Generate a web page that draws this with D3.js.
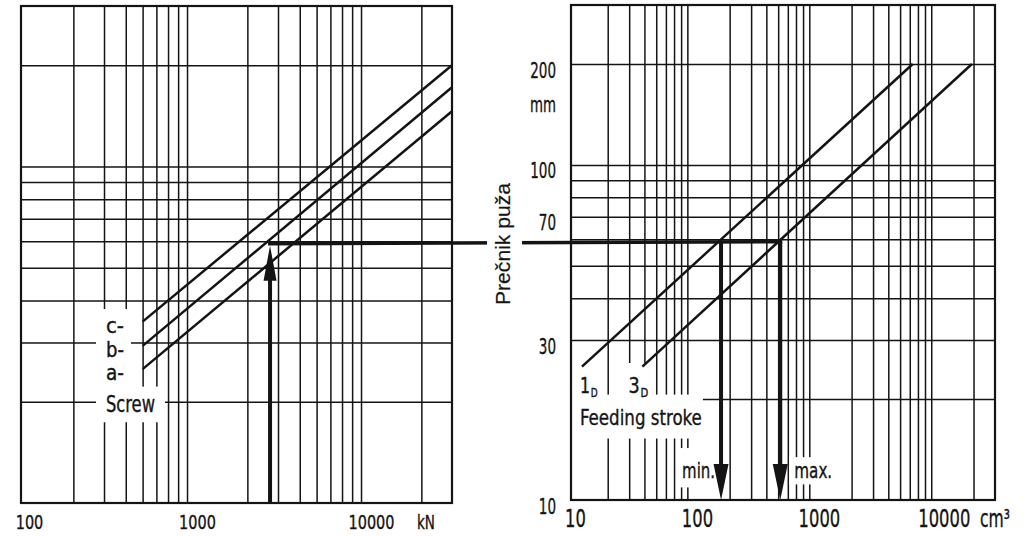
<!DOCTYPE html>
<html><head><meta charset="utf-8">
<script src="https://cdn.jsdelivr.net/npm/d3@7"></script>
<style>
html,body{margin:0;padding:0;background:#fff;}
svg{display:block;}
text{font-family:"DejaVu Sans Condensed","Liberation Sans Narrow","DejaVu Sans",sans-serif;fill:#151515;stroke:#151515;stroke-width:0.35px;}
.arial{font-family:"Liberation Sans",Arial,sans-serif;stroke-width:0.2px;}
</style></head><body>
<svg id="c" width="1028" height="536"></svg>
<script>
// ---------------- data ----------------
const forceGrid = [200,300,400,500,600,700,800,900,2000,3000,4000,5000,6000,7000,8000,9000,20000];      // kN
const volumeGrid = [20,30,40,50,60,70,80,90,200,300,400,500,600,700,800,900,2000,3000,4000,5000,6000,7000,8000,9000,20000]; // cm3
const diameterGrid = [20,30,40,50,60,70,80,90,100,200];   // mm
const forceTicks = [100,1000,10000];
const forceTickLabels = ["100","1000","10000"];
const volumeTicks = [10,100,1000,10000];
const volumeTickLabels = ["10","100","1000","10000"];
const diameterTicks = [200,100,70,30,10];
const diameterTickLabels = ["200","100","70","30","10"];

const screwNames = ["c","b","a"];
const screwForce = [500,30000];          // kN, start / end of each screw line
const screwC = [34.6,200];               // mm
const screwB = [29.3,172];
const screwA = [25,146];

const strokeNames = ["1","3"];
const strokeDiameter = [25,200];         // mm, start / end
const stroke1D = [12.3,6350];            // cm3
const stroke3D = [38.5,19400];           // cm3

const exampleForce = 2700;               // kN
const exampleDiameter = 59;              // mm
const exampleVolume = [170,520];         // cm3  min / max
const exampleVolumeLabels = ["min.","max."];

// ---------------- layout ----------------
const svg = d3.select("#c");
const L = {x0:21, x1:452, y0:6, y1:503};
const R = {x0:571, x1:995, y0:5, y1:500};
const xL = d3.scaleLog().domain([100,30000]).range([L.x0,L.x1]);
const yL = d3.scaleLog().domain([10,300]).range([L.y1,L.y0]);
const xR = d3.scaleLog().domain([10,30000]).range([R.x0,R.x1]);
const yR = d3.scaleLog().domain([10,300]).range([R.y1,R.y0]);

const gridLayer = svg.append("g");
const knockLayer = svg.append("g");
const frameLayer = svg.append("g");
const dataLayer = svg.append("g");
const knockLayer2 = svg.append("g");
const textLayer = svg.append("g");
const INK = "#141414";

function grid(x, y, box, xv, yv){
  gridLayer.append("g").attr("transform",`translate(0,${box.y1})`)
    .call(d3.axisBottom(x).tickValues(xv).tickSize(-(box.y1-box.y0)).tickFormat(""))
    .call(s=>s.select(".domain").remove())
    .selectAll("line").attr("stroke",INK).attr("stroke-width",1.5);
  gridLayer.append("g").attr("transform",`translate(${box.x0},0)`)
    .call(d3.axisLeft(y).tickValues(yv).tickSize(-(box.x1-box.x0)).tickFormat(""))
    .call(s=>s.select(".domain").remove())
    .selectAll("line").attr("stroke",INK).attr("stroke-width",1.5);
  frameLayer.append("rect").attr("x",box.x0).attr("y",box.y0)
    .attr("width",box.x1-box.x0).attr("height",box.y1-box.y0)
    .attr("fill","none").attr("stroke",INK).attr("stroke-width",2.2);
}
grid(xL,yL,L,forceGrid,diameterGrid);
grid(xR,yR,R,volumeGrid,diameterGrid);

// ---------------- tick labels via axes ----------------
function styleAxis(sel){ sel.attr("font-family",null).attr("font-size",null).call(s=>s.select(".domain").remove()); }
// condense each label so that every character takes `perChar` px
function condense(sel, perChar, xOff){
  sel.each(function(d,i){
    const len = this.getComputedTextLength();
    const n = this.textContent.length;
    const sx = perChar*n/len;
    d3.select(this).attr("transform",`translate(${typeof xOff==="function"?xOff(d,i):xOff},0) scale(${sx},1)`);
  });
}
svg.append("g").attr("transform",`translate(0,529)`)
  .call(d3.axisBottom(xL).tickValues(forceTicks).tickSize(0).tickFormat((d,i)=>forceTickLabels[i]))
  .call(styleAxis)
  .selectAll("text").attr("y",0).attr("dy",null).attr("font-size",20).attr("fill",INK)
  .call(condense, 9.2, (d,i)=> i===0 ? 8 : 2);
svg.append("g").attr("transform",`translate(0,527)`)
  .call(d3.axisBottom(xR).tickValues(volumeTicks).tickSize(0).tickFormat((d,i)=>volumeTickLabels[i]))
  .call(styleAxis)
  .selectAll("text").attr("y",0).attr("dy",null).attr("font-size",25).attr("fill",INK)
  .call(condense, 10.4, (d,i)=> i===3 ? 7 : 4);
svg.append("g").attr("transform",`translate(${R.x0},0)`)
  .call(d3.axisLeft(yR).tickValues(diameterTicks).tickSize(0).tickFormat((d,i)=>diameterTickLabels[i]))
  .call(styleAxis)
  .selectAll("text").attr("dy",null).attr("y",13).attr("x",0).attr("font-size",22).attr("fill",INK)
  .call(condense, 8.6, -15);

// ---------------- helpers ----------------
function txt(s, x, y, o={}){
  const t = textLayer.append("text")
    .attr("font-size",o.size||20).attr("text-anchor",o.anchor||"start").attr("fill",INK);
  if(o.cls) t.attr("class",o.cls);
  if(Array.isArray(s)){
    t.append("tspan").text(s[0]);
    t.append("tspan").attr("font-size",o.subSize||12).attr("dy",4).attr("dx",1).text(s[1]);
  } else t.text(s);
  let sx = 1;
  if(o.w){ sx = o.w / t.node().getComputedTextLength(); }
  t.attr("transform",`translate(${x},${y})` + (o.rot?` rotate(${o.rot})`:"") + ` scale(${sx},1)`);
  return t;
}
function knock(t, p, layer){
  const b = t.node().getBoundingClientRect();
  (layer||knockLayer).append("rect")
    .attr("x",b.left-p[0]).attr("y",b.top-p[2])
    .attr("width",b.width+p[0]+p[1]).attr("height",b.height+p[2]+p[3])
    .attr("fill","#fff");
}
const line = (x,y)=> d3.line().x(d=>x(d[0])).y(d=>y(d[1]));

// ---------------- left panel: screw lines ----------------
[screwC,screwB,screwA].forEach((s,i)=>{
  dataLayer.append("path").datum(screwForce.map((f,j)=>[f,s[j]]))
    .attr("d",line(xL,yL)).attr("fill","none").attr("stroke",INK).attr("stroke-width",2.5);
  const t = txt(screwNames[i]+"-", 106, yL(s[0])+11, {size:21, w:18});
  knock(t,[10,7,4,4]);
});
const screwT = txt("Screw", 106, yL(20)+10, {size:23, w:49});
knock(screwT,[10,10,4,5]);
txt("kN", L.x1-35, 529, {size:20, w:18});

// ---------------- right panel: stroke lines ----------------
[stroke1D,stroke3D].forEach((v,i)=>{
  dataLayer.append("path").datum(v.map((d,j)=>[d,strokeDiameter[j]]))
    .attr("d",line(xR,yR)).attr("fill","none").attr("stroke",INK).attr("stroke-width",2.5);
});
const t1 = txt([strokeNames[0],"D"], xR(stroke1D[0])-2, yR(strokeDiameter[0])+26, {size:21, w:17});
knock(t1,[3,3,4,2]);
const t3 = txt([strokeNames[1],"D"], xR(stroke3D[0])-14, yR(strokeDiameter[0])+26, {size:21, w:19});
knock(t3,[7,3,10,2]);
const fs = txt("Feeding stroke", 580, yR(20)+26, {size:22, w:122});
knock(fs,[10,1,10,8]);
txt("mm", R.x0-15, yR(200)+48, {size:22, anchor:"end", w:26});
txt("cm³", R.x1-15, 527, {size:25, w:30});

// ---------------- example: arrows ----------------
const yEx = yL(exampleDiameter);
dataLayer.append("line").attr("x1",xL(exampleForce)).attr("x2",xL(exampleForce))
  .attr("y1",yL(10)).attr("y2",yEx+20).attr("stroke",INK).attr("stroke-width",4);
dataLayer.append("path").attr("fill",INK)
  .attr("d",`M${xL(exampleForce)},${yEx+2} L${xL(exampleForce)+6.5},${yEx+37} L${xL(exampleForce)-6.5},${yEx+37}Z`);
dataLayer.append("path").datum([[exampleForce,exampleDiameter],[exampleVolume[1],exampleDiameter]])
  .attr("d",d=>`M${xL(d[0][0])-2},${yL(d[0][1])} L${xR(d[1][0])+2},${yR(d[1][1])}`)
  .attr("stroke",INK).attr("stroke-width",3.5).attr("fill","none");
exampleVolume.forEach((v,i)=>{
  const x = xR(v);
  dataLayer.append("line").attr("x1",x).attr("x2",x).attr("y1",yR(exampleDiameter))
    .attr("y2",yR(10)-20).attr("stroke",INK).attr("stroke-width",4);
  dataLayer.append("path").attr("fill",INK)
    .attr("d",`M${x},${yR(10)} L${x+7.5},${yR(10)-36} L${x-7.5},${yR(10)-36}Z`);
  const t = i===0 ? txt(exampleVolumeLabels[i], x-6, R.y1-22, {size:21, anchor:"end", w:33})
                  : txt(exampleVolumeLabels[i], x+14, R.y1-22, {size:21, w:38});
  knock(t, i===0 ? [4,3,10,5] : [5,2,1,2]);
});

// ---------------- y title ----------------
const yt = txt("Prečnik puža", 510, 244, {size:21, anchor:"middle", rot:-90, cls:"arial", w:122});
knock(yt,[4,8,0,0],knockLayer2);
</script>
</body></html>
